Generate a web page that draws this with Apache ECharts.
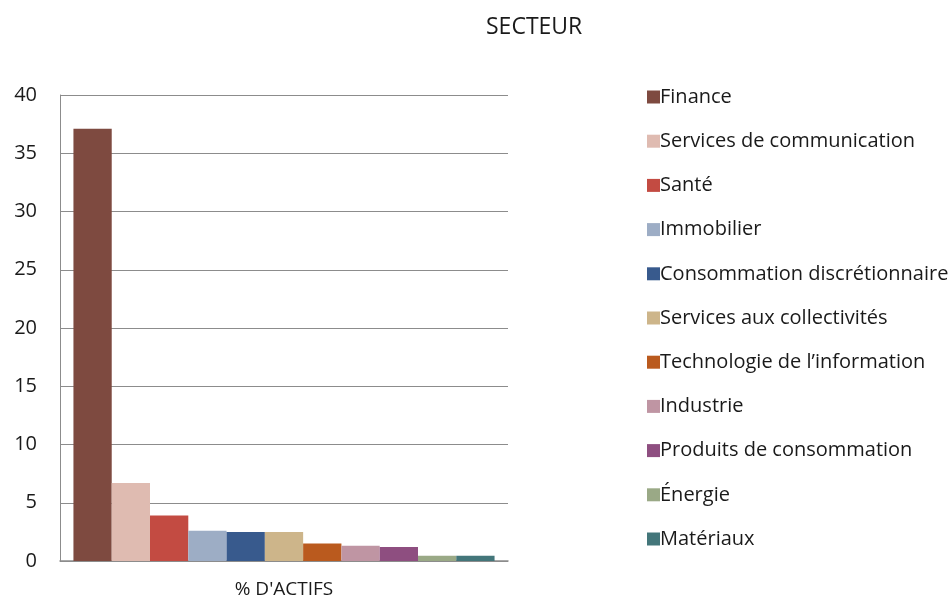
<!DOCTYPE html>
<html lang="fr">
<head>
    <meta charset="UTF-8">
    <title>Secteur</title>
    <script src="https://cdn.jsdelivr.net/npm/echarts@6/dist/echarts.min.js"></script>
    <style>
        html, body { margin: 0; padding: 0; background: #fff; }
        #chart { width: 949px; height: 598px; }
    </style>
</head>
<body>
    <div id="chart"></div>
    <script>
        // données
        const categories = ["% D'ACTIFS"];
        const secteurs = [
            'Finance', 'Services de communication', 'Santé', 'Immobilier',
            'Consommation discrétionnaire', 'Services aux collectivités',
            'Technologie de l\u2019information', 'Industrie', 'Produits de consommation',
            'Énergie', 'Matériaux'
        ];
        const valeurs = [37.1, 6.7, 3.9, 2.6, 2.5, 2.5, 1.5, 1.3, 1.2, 0.45, 0.45];
        const couleurs = [
            '#7E4A40', '#DFBBB1', '#C34B42', '#9DADC5', '#385A8D', '#CDB58A',
            '#BA5A1E', '#BF95A3', '#8E4E80', '#9AA986', '#43767A'
        ];
        const yTicks = { min: 0, max: 40, interval: 5 };

        const font = '"Open Sans", Lato, sans-serif';

        let myChart = echarts.init(document.getElementById('chart'));

        let series = secteurs.map((nom, i) => ({
            name: nom,
            type: 'bar',
            data: [valeurs[i]],
            barGap: 0,
            barCategoryGap: '6%',
            itemStyle: { color: couleurs[i] }
        }));

        let option = {
            animation: false,
            textStyle: { fontFamily: font },
            color: couleurs,
            title: {
                text: 'SECTEUR',
                left: 481,
                top: 11,
                textStyle: { fontFamily: font, fontSize: 23, fontWeight: 'normal', color: '#1a1a1a' }
            },
            grid: { left: 60, top: 95, width: 448, height: 466, outerBoundsMode: 'none' },
            legend: {
                orient: 'vertical',
                left: 642,
                top: 81,
                itemWidth: 13,
                itemHeight: 13,
                itemGap: 22.2,
                icon: 'rect',
                textStyle: { fontFamily: font, fontSize: 20, color: '#1a1a1a', lineHeight: 22, padding: [0, 0, 0, -5] },
                data: secteurs
            },
            xAxis: {
                type: 'category',
                data: categories,
                axisLine: { lineStyle: { color: '#8c8c8c', width: 1.5 } },
                axisTick: { show: false },
                axisLabel: { fontFamily: font, fontSize: 19, color: '#1a1a1a', margin: 19 }
            },
            yAxis: {
                type: 'value',
                min: yTicks.min,
                max: yTicks.max,
                interval: yTicks.interval,
                axisLine: { show: true, lineStyle: { color: '#8c8c8c', width: 1 } },
                axisTick: { show: false },
                splitLine: { lineStyle: { color: '#8c8c8c', width: 1.2 } },
                axisLabel: { fontFamily: font, fontSize: 20, color: '#1a1a1a', margin: 23 }
            },
            series: series
        };

        myChart.setOption(option);
    </script>
</body>
</html>
